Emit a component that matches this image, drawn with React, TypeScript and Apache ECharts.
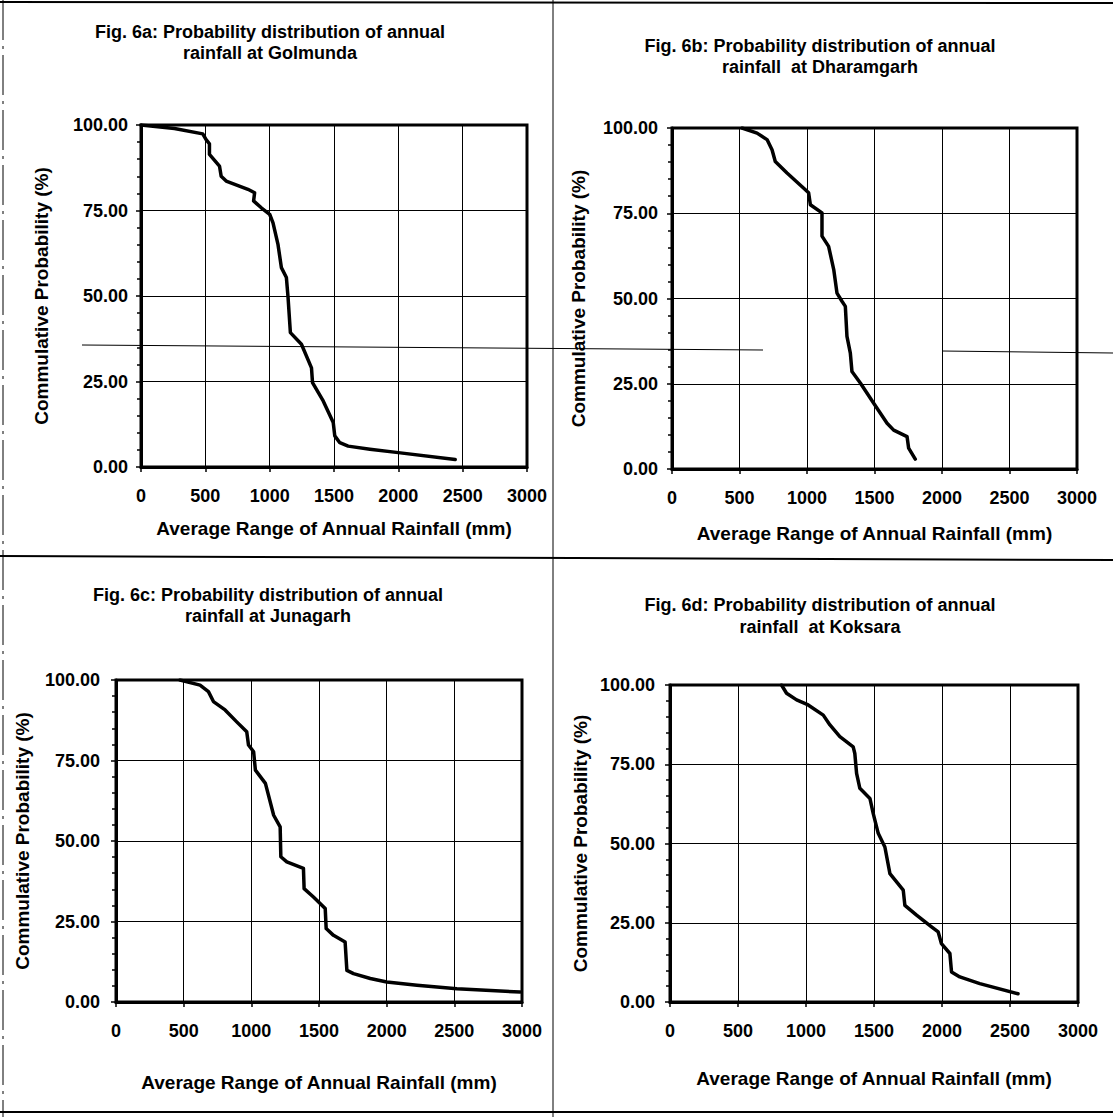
import React, { useEffect, useRef } from "react";
import * as echarts from "echarts";

// ---- Data ----
const xTicks = [0, 500, 1000, 1500, 2000, 2500, 3000];
const yTicks = [0, 25, 50, 75, 100];

const titlesLine1 = [
  "Fig. 6a: Probability distribution of annual",
  "Fig. 6b: Probability distribution of annual",
  "Fig. 6c: Probability distribution of annual",
  "Fig. 6d: Probability distribution of annual",
];
const titlesLine2 = [
  "rainfall at Golmunda",
  "rainfall  at Dharamgarh",
  "rainfall at Junagarh",
  "rainfall  at Koksara",
];
const xAxisName = "Average Range of Annual Rainfall (mm)";
const yAxisName = "Commulative Probability (%)";

// Golmunda
const golmundaRain = [0, 260, 480, 506, 532, 532, 610, 623, 662, 831, 883, 875, 935, 1000, 1026, 1065, 1091, 1130, 1143, 1161, 1247, 1325, 1333, 1416, 1494, 1506, 1545, 1610, 1779, 2000, 2442];
const golmundaProb = [100, 99, 97.4, 95.7, 94.5, 91.4, 88, 85, 83.6, 81.2, 80.2, 77.8, 75.8, 73.9, 71.4, 65, 58.3, 55.4, 49.5, 39.3, 35.9, 29, 24.7, 19.3, 13, 9.1, 7.1, 6.1, 5.2, 4.2, 2.2];

// Dharamgarh
const dharamgarhRain = [519, 630, 704, 741, 765, 852, 988, 1012, 1025, 1111, 1111, 1160, 1198, 1222, 1259, 1284, 1296, 1321, 1333, 1395, 1494, 1593, 1642, 1741, 1753, 1802];
const dharamgarhProb = [100, 98.5, 96.6, 93.6, 90.2, 86.8, 81.9, 81, 77.5, 75.1, 68.3, 65.3, 58.5, 51.6, 49.2, 47.7, 38.9, 34, 28.6, 25.2, 19.3, 13.4, 11.4, 9.5, 6.1, 2.9];

// Junagarh
const junagarhRain = [473, 621, 683, 720, 806, 892, 966, 979, 1017, 1030, 1104, 1165, 1213, 1218, 1262, 1385, 1390, 1459, 1546, 1553, 1607, 1693, 1706, 1755, 1879, 2001, 2224, 2519, 2987];
const junagarhProb = [100, 98.4, 96.4, 93.3, 90.7, 87, 83.9, 79.8, 77.7, 72, 67.9, 58, 54.4, 45.1, 43.5, 41.5, 35.2, 32.6, 29, 22.8, 20.7, 18.6, 9.8, 8.8, 7.3, 6.2, 5.2, 4.1, 3.1];

// Koksara
const koksaraRain = [820, 857, 931, 1016, 1127, 1176, 1249, 1347, 1359, 1372, 1396, 1470, 1494, 1531, 1580, 1617, 1715, 1727, 1813, 1923, 1972, 1996, 2058, 2070, 2131, 2278, 2559];
const koksaraProb = [100, 97.4, 95.3, 93.7, 90.5, 87.4, 83.7, 80.5, 78.4, 72.1, 67.4, 64.2, 59.5, 53.2, 48.9, 40.5, 35.3, 30.5, 27.4, 23.7, 22.1, 18.4, 15.3, 9.5, 7.9, 5.8, 2.6];

const rainSeries = [golmundaRain, dharamgarhRain, junagarhRain, koksaraRain];
const probSeries = [golmundaProb, dharamgarhProb, junagarhProb, koksaraProb];

// ---- Layout ----
const FONT = "'Liberation Sans', Arial, sans-serif";
const grids = [
  { left: 141, top: 125, width: 386, height: 342 },
  { left: 672, top: 128, width: 405, height: 341 },
  { left: 116, top: 680, width: 406, height: 322 },
  { left: 670, top: 685, width: 408, height: 317 },
];
const titlePos = [
  { x: 270, y1: 32, y2: 53 },
  { x: 820, y1: 46, y2: 67 },
  { x: 268, y1: 595, y2: 616 },
  { x: 820, y1: 605, y2: 627 },
];
const xNameGap = [52, 55, 71, 67];
const yNameGap = [90, 84, 84, 80];
const yLabelMargin = [13, 14, 16, 15];

export default function App() {
  const ref = useRef<HTMLDivElement>(null);
  useEffect(() => {
    if (!ref.current) return;
    const chart = echarts.init(ref.current, undefined, { renderer: "svg" });

    const graphic: any[] = [];
    titlePos.forEach((p, i) => {
      graphic.push({
        type: "text",
        x: p.x,
        y: p.y1,
        style: {
          text: titlesLine1[i],
          textAlign: "center",
          textVerticalAlign: "middle",
          font: `bold 18px ${FONT}`,
          fill: "#000",
        },
      });
      graphic.push({
        type: "text",
        x: p.x,
        y: p.y2,
        style: {
          text: titlesLine2[i],
          textAlign: "center",
          textVerticalAlign: "middle",
          font: `bold 18px ${FONT}`,
          fill: "#000",
        },
      });
    });
    // page frame / divider lines of the scanned sheet
    const pageLines = [
      { x1: 0, y1: 2, x2: 1113, y2: 3, w: 2 },
      { x1: 553, y1: 0, x2: 553, y2: 1117, w: 1 },
      { x1: 0, y1: 556, x2: 1113, y2: 560, w: 2 },
      { x1: 0, y1: 1112, x2: 1113, y2: 1112, w: 2 },
      { x1: 82, y1: 345, x2: 763, y2: 350, w: 1 },
      { x1: 942, y1: 351, x2: 1113, y2: 353, w: 1 },
    ];
    pageLines.forEach((l) =>
      graphic.push({
        type: "line",
        shape: { x1: l.x1, y1: l.y1, x2: l.x2, y2: l.y2 },
        style: { stroke: "#000", lineWidth: l.w },
        z: 100,
      })
    );
    graphic.push({
      type: "line",
      shape: { x1: 3, y1: 0, x2: 3, y2: 1117 },
      style: { stroke: "#000", lineWidth: 1, lineDash: [40, 6, 3, 6] },
    });

    const option: any = {
      animation: false,
      backgroundColor: "#fff",
      graphic,
      grid: grids.map((g) => ({
        ...g,
        show: true,
        borderColor: "#000",
        borderWidth: 3,
        backgroundColor: "transparent",
        containLabel: false,
      })),
      xAxis: grids.map((_, i) => ({
        type: "value",
        gridIndex: i,
        min: xTicks[0],
        max: xTicks[xTicks.length - 1],
        interval: xTicks[1] - xTicks[0],
        name: xAxisName,
        nameLocation: "middle",
        nameGap: xNameGap[i],
        nameTextStyle: { fontFamily: FONT, fontSize: 19, fontWeight: "bold", color: "#000" },
        axisLine: { show: true, lineStyle: { color: "#000", width: 3 } },
        axisTick: { show: true, inside: false, length: 5, lineStyle: { color: "#000", width: 1.5 } },
        axisLabel: {
          fontFamily: FONT,
          fontSize: 18,
          fontWeight: "bold",
          color: "#000",
          margin: 20,
          formatter: (v: number) => String(v),
        },
        splitLine: { show: true, lineStyle: { color: "#000", width: 1 } },
      })),
      yAxis: grids.map((_, i) => ({
        type: "value",
        gridIndex: i,
        min: yTicks[0],
        max: yTicks[yTicks.length - 1],
        interval: yTicks[1] - yTicks[0],
        name: yAxisName,
        nameLocation: "middle",
        nameRotate: 90,
        nameGap: yNameGap[i],
        nameTextStyle: { fontFamily: FONT, fontSize: 19, fontWeight: "bold", color: "#000" },
        axisLine: { show: true, lineStyle: { color: "#000", width: 3 } },
        axisTick: { show: true, inside: false, length: 5, lineStyle: { color: "#000", width: 1.5 } },
        minorTick: { show: true, splitNumber: 5, length: 4, lineStyle: { color: "#000", width: 1.5 } },
        axisLabel: {
          fontFamily: FONT,
          fontSize: 18,
          fontWeight: "bold",
          color: "#000",
          margin: yLabelMargin[i],
          formatter: (v: number) => v.toFixed(2),
        },
        splitLine: { show: true, lineStyle: { color: "#000", width: 1 } },
      })),
      series: rainSeries.map((xs, i) => ({
        type: "line",
        xAxisIndex: i,
        yAxisIndex: i,
        data: xs.map((v, k) => [v, probSeries[i][k]]),
        showSymbol: false,
        symbol: "none",
        lineStyle: { color: "#000", width: 3.5, join: "round", cap: "round" },
        z: 5,
      })),
    };
    chart.setOption(option);
    return () => chart.dispose();
  }, []);

  return (
    <div
      ref={ref}
      style={{ position: "absolute", left: 0, top: 0, width: 1113, height: 1117, background: "#fff" }}
    />
  );
}
